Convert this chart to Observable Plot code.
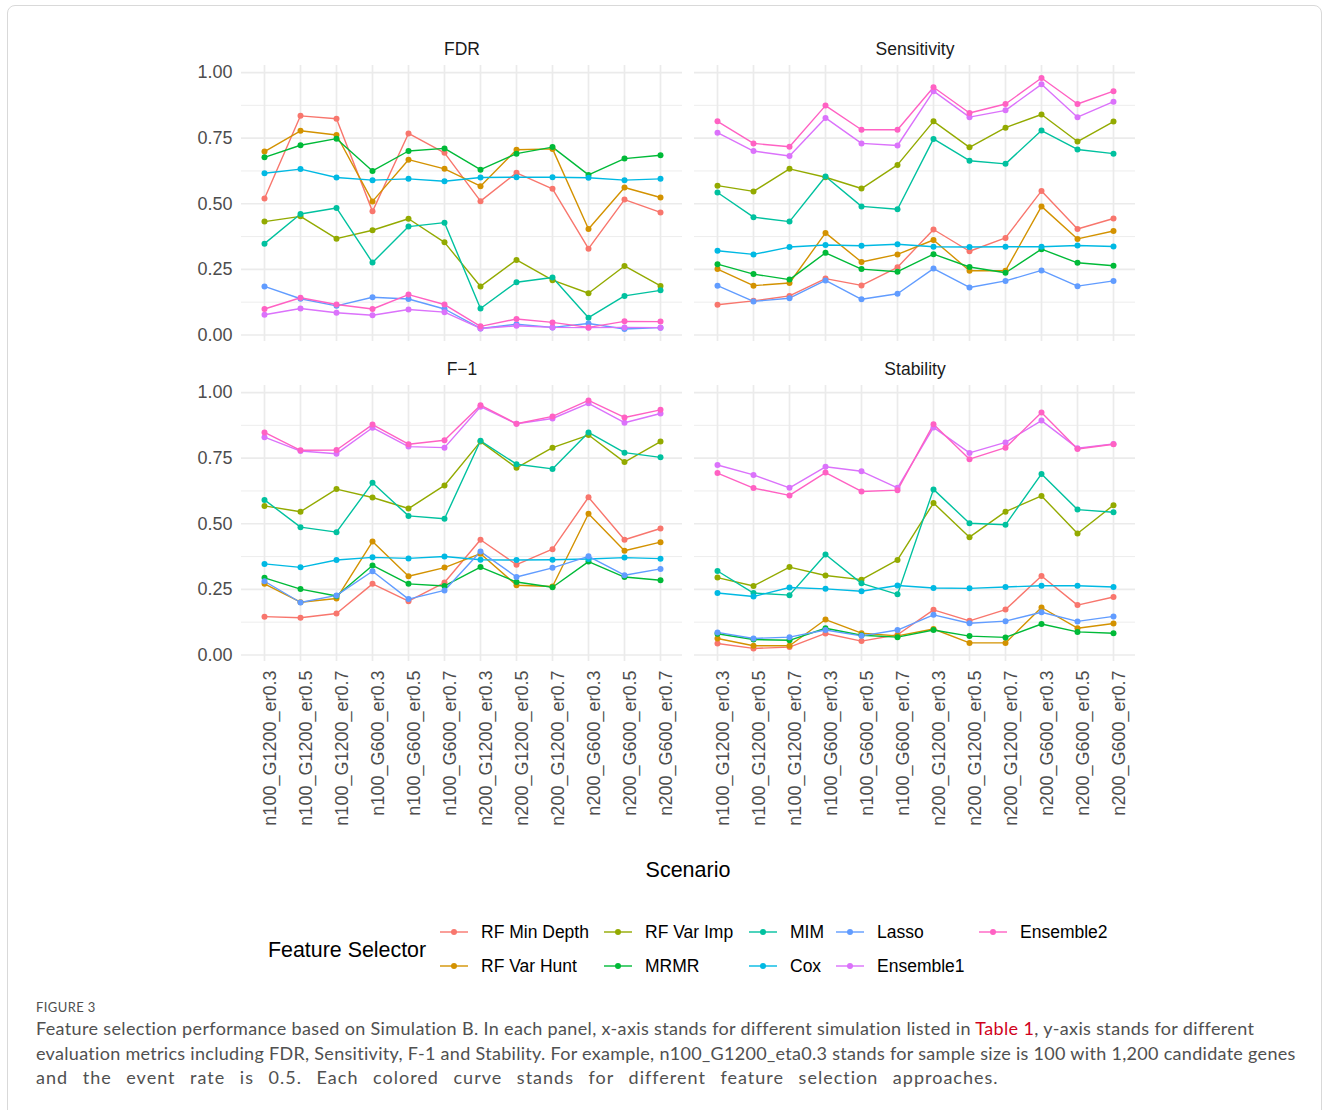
<!DOCTYPE html>
<html>
<head>
<meta charset="utf-8">
<script src="https://cdn.jsdelivr.net/npm/d3@7"></script>
<script src="https://cdn.jsdelivr.net/npm/@observablehq/plot@0.6"></script>
<style>
  html, body { margin: 0; padding: 0; background: #fff; }
  body { width: 1328px; height: 1110px; overflow: hidden; font-family: "Liberation Sans", Arial, sans-serif; }
  #page { position: relative; width: 1328px; height: 1110px; }
  #frame { position: absolute; left: 7px; top: 5px; width: 1313px; height: 1130px; border: 1px solid #d9d9d9; border-radius: 8px; }
  #chart { position: absolute; left: 0; top: 0; }
  #xtitle { position: absolute; left: 0; width: 1376px; top: 858px; text-align: center; font-size: 21.5px; color: #000; }
  #legend-title { position: absolute; left: 268px; top: 938px; font-size: 21.4px; color: #000; }
  .lg-item { position: absolute; display: flex; align-items: center; font-size: 17.5px; color: #000; height: 20px; }
  .lg-item svg { margin-right: 12px; }
  #caption { position: absolute; left: 36px; top: 998px; color: #505050; font-family: Lato, "Open Sans", sans-serif; }
  #caption .fig { font-size: 13px; letter-spacing: 0.4px; line-height: 18px; }
  #caption .body { font-size: 18px; letter-spacing: 0.35px; line-height: 24.5px; white-space: nowrap; }
  #caption .mid { letter-spacing: 0.3px; }
  #caption .last { letter-spacing: 1px; word-spacing: 9px; }
  #caption .ref { color: #d0021b; }
</style>
</head>
<body>
<div id="page">
  <div id="frame"></div>
  <div id="chart"></div>
  <div id="xtitle">Scenario</div>
  <div id="legend-title">Feature Selector</div>
  <div id="legend"></div>
  <div id="caption">
    <div class="fig">FIGURE 3</div>
    <div class="body">Feature selection performance based on Simulation B. In each panel, x-axis stands for different simulation listed in <span class="ref">Table 1</span>, y-axis stands for different<br><span class="mid">evaluation metrics including FDR, Sensitivity, F-1 and Stability. For example, n100_G1200_eta0.3 stands for sample size is 100 with 1,200 candidate genes</span><br><span class="last">and the event rate is 0.5. Each colored curve stands for different feature selection approaches.</span></div>
  </div>
</div>
<script>
// Simulation scenarios (x axis), shared by every panel
const scenarios = [
  "n100_G1200_er0.3", "n100_G1200_er0.5", "n100_G1200_er0.7",
  "n100_G600_er0.3", "n100_G600_er0.5", "n100_G600_er0.7",
  "n200_G1200_er0.3", "n200_G1200_er0.5", "n200_G1200_er0.7",
  "n200_G600_er0.3", "n200_G600_er0.5", "n200_G600_er0.7"
];

// Feature selectors and their colours (ggplot hue palette)
const methods = ["RF Min Depth", "RF Var Hunt", "RF Var Imp", "MRMR", "MIM", "Cox", "Lasso", "Ensemble1", "Ensemble2"];
const methodColors = ["#F8766D", "#D39200", "#93AA00", "#00BA38", "#00C19F", "#00B9E3", "#619CFF", "#DB72FB", "#FF61C3"];

// Panels, in reading order (2 x 2)
const metrics = ["FDR", "Sensitivity", "F\u22121", "Stability"];

// One row per selector (same order as `methods`), one value per scenario
const fdr = [
  [0.520, 0.835, 0.824, 0.471, 0.768, 0.694, 0.510, 0.618, 0.557, 0.329, 0.516, 0.467],
  [0.699, 0.778, 0.762, 0.509, 0.668, 0.633, 0.567, 0.706, 0.709, 0.404, 0.562, 0.524],
  [0.432, 0.452, 0.367, 0.399, 0.443, 0.353, 0.185, 0.286, 0.209, 0.159, 0.263, 0.187],
  [0.677, 0.723, 0.748, 0.625, 0.701, 0.711, 0.630, 0.691, 0.716, 0.610, 0.672, 0.685],
  [0.348, 0.461, 0.484, 0.276, 0.413, 0.428, 0.101, 0.201, 0.219, 0.066, 0.149, 0.170],
  [0.616, 0.632, 0.600, 0.590, 0.595, 0.586, 0.600, 0.601, 0.601, 0.599, 0.590, 0.595],
  [0.185, 0.138, 0.111, 0.144, 0.137, 0.099, 0.025, 0.041, 0.029, 0.044, 0.023, 0.028],
  [0.077, 0.101, 0.085, 0.075, 0.097, 0.087, 0.025, 0.035, 0.029, 0.028, 0.029, 0.028],
  [0.099, 0.142, 0.116, 0.099, 0.154, 0.116, 0.033, 0.061, 0.048, 0.029, 0.052, 0.051]
];

const sensitivity = [
  [0.115, 0.130, 0.149, 0.215, 0.189, 0.258, 0.402, 0.319, 0.370, 0.549, 0.404, 0.444],
  [0.251, 0.188, 0.198, 0.389, 0.278, 0.307, 0.362, 0.245, 0.245, 0.490, 0.366, 0.396],
  [0.569, 0.547, 0.633, 0.601, 0.558, 0.648, 0.814, 0.715, 0.790, 0.840, 0.737, 0.813],
  [0.270, 0.232, 0.211, 0.313, 0.251, 0.241, 0.308, 0.259, 0.237, 0.327, 0.275, 0.264],
  [0.543, 0.449, 0.432, 0.604, 0.490, 0.479, 0.747, 0.664, 0.652, 0.779, 0.707, 0.691],
  [0.321, 0.307, 0.335, 0.343, 0.340, 0.346, 0.336, 0.335, 0.336, 0.336, 0.341, 0.337],
  [0.188, 0.128, 0.140, 0.208, 0.136, 0.157, 0.253, 0.181, 0.206, 0.246, 0.186, 0.206],
  [0.771, 0.701, 0.682, 0.827, 0.730, 0.722, 0.929, 0.830, 0.856, 0.955, 0.830, 0.889],
  [0.814, 0.730, 0.717, 0.874, 0.782, 0.782, 0.944, 0.846, 0.880, 0.979, 0.880, 0.929]
];

const f1 = [
  [0.146, 0.142, 0.158, 0.271, 0.205, 0.276, 0.439, 0.344, 0.403, 0.601, 0.439, 0.482],
  [0.271, 0.201, 0.215, 0.432, 0.300, 0.333, 0.386, 0.266, 0.261, 0.538, 0.397, 0.430],
  [0.568, 0.546, 0.632, 0.600, 0.558, 0.646, 0.813, 0.713, 0.790, 0.838, 0.735, 0.813],
  [0.294, 0.251, 0.225, 0.341, 0.271, 0.263, 0.335, 0.278, 0.258, 0.356, 0.297, 0.285],
  [0.591, 0.487, 0.468, 0.656, 0.530, 0.519, 0.816, 0.727, 0.709, 0.848, 0.771, 0.753],
  [0.347, 0.334, 0.362, 0.372, 0.368, 0.375, 0.363, 0.362, 0.363, 0.366, 0.371, 0.367],
  [0.281, 0.200, 0.227, 0.319, 0.213, 0.246, 0.394, 0.297, 0.332, 0.376, 0.304, 0.328],
  [0.830, 0.777, 0.767, 0.866, 0.794, 0.790, 0.946, 0.881, 0.901, 0.959, 0.885, 0.920],
  [0.848, 0.780, 0.781, 0.878, 0.803, 0.818, 0.952, 0.881, 0.909, 0.970, 0.905, 0.934]
];

const stability = [
  [0.044, 0.025, 0.030, 0.082, 0.053, 0.077, 0.172, 0.130, 0.173, 0.301, 0.190, 0.221],
  [0.063, 0.035, 0.035, 0.135, 0.083, 0.073, 0.099, 0.046, 0.046, 0.181, 0.102, 0.120],
  [0.295, 0.263, 0.335, 0.303, 0.287, 0.362, 0.579, 0.449, 0.546, 0.606, 0.463, 0.571],
  [0.081, 0.059, 0.056, 0.102, 0.075, 0.068, 0.095, 0.072, 0.067, 0.118, 0.088, 0.083],
  [0.320, 0.236, 0.228, 0.383, 0.273, 0.231, 0.631, 0.502, 0.496, 0.690, 0.554, 0.544],
  [0.236, 0.223, 0.257, 0.252, 0.243, 0.265, 0.255, 0.254, 0.259, 0.264, 0.264, 0.259],
  [0.086, 0.063, 0.068, 0.095, 0.073, 0.095, 0.153, 0.121, 0.129, 0.163, 0.128, 0.147],
  [0.724, 0.686, 0.637, 0.717, 0.700, 0.637, 0.867, 0.770, 0.810, 0.893, 0.788, 0.804],
  [0.693, 0.636, 0.608, 0.695, 0.623, 0.628, 0.879, 0.746, 0.790, 0.924, 0.785, 0.803]
];

const yTicks = [0, 0.25, 0.5, 0.75, 1];
const yMinor = [0.125, 0.375, 0.625, 0.875];

// Long table: one row per (panel, selector, scenario)
const tables = [fdr, sensitivity, f1, stability];
const rows = [];
tables.forEach((table, p) => {
  table.forEach((series, m) => {
    series.forEach((v, s) => {
      rows.push({metric: metrics[p], col: p % 2, row: Math.floor(p / 2), method: methods[m], scenario: scenarios[s], value: v});
    });
  });
});
const panels = metrics.map((name, p) => ({name, col: p % 2, row: Math.floor(p / 2)}));

// y limits: data range expanded by 5% on each side
const [lo, hi] = d3.extent(rows, d => d.value);
const pad = (hi - lo) * 0.05;

const grid = "#ebebeb";
const chart = Plot.plot({
  width: 1328,
  height: 890,
  marginLeft: 241,
  marginRight: 193,
  marginTop: 64,
  marginBottom: 228,
  style: {fontFamily: "'Liberation Sans', Arial, sans-serif", fontSize: "17.5px", background: "transparent"},
  fx: {axis: null, paddingInner: 0.0265, paddingOuter: 0},
  fy: {axis: null, paddingInner: 0.137, paddingOuter: 0},
  x: {type: "point", domain: scenarios, padding: 0.6},
  y: {domain: [lo - pad, hi + pad]},
  color: {domain: methods, range: methodColors},
  marks: [
    Plot.gridY(yMinor, {stroke: grid, strokeOpacity: 1, strokeWidth: 0.9}),
    Plot.gridY(yTicks, {stroke: grid, strokeOpacity: 1, strokeWidth: 1.7}),
    Plot.gridX({stroke: grid, strokeOpacity: 1, strokeWidth: 1.7}),
    Plot.axisY({ticks: yTicks, tickFormat: d3.format(".2f"), tickSize: 0, tickPadding: 9, fontSize: 18, color: "#4d4d4d", label: null}),
    Plot.axisX({tickRotate: -90, tickSize: 0, tickPadding: 9, dx: 6, fontSize: 18, color: "#4d4d4d", label: null}),
    Plot.text(panels, {fx: "col", fy: "row", text: "name", frameAnchor: "top", lineAnchor: "middle", dy: -16, fontSize: 17.5, fill: "#1a1a1a"}),
    Plot.line(rows, {fx: "col", fy: "row", x: "scenario", y: "value", z: "method", stroke: "method", strokeWidth: 1.4}),
    Plot.dot(rows, {fx: "col", fy: "row", x: "scenario", y: "value", fill: "method", r: 3})
  ]
});
document.getElementById("chart").appendChild(chart);

// Legend: two rows, filled column by column
const legend = document.getElementById("legend");
const colLeft = [439, 603, 748, 835, 978];
const rowTop = [922, 956];
methods.forEach((m, i) => {
  const c = Math.floor(i / 2), r = i % 2;
  const item = document.createElement("div");
  item.className = "lg-item";
  item.style.left = colLeft[c] + "px";
  item.style.top = rowTop[r] + "px";
  const col = methodColors[i];
  item.innerHTML = `<svg width="30" height="14"><line x1="1" x2="29" y1="7" y2="7" stroke="${col}" stroke-width="1.4"/><circle cx="15" cy="7" r="3" fill="${col}"/></svg><span>${m}</span>`;
  legend.appendChild(item);
});
</script>
</body>
</html>
